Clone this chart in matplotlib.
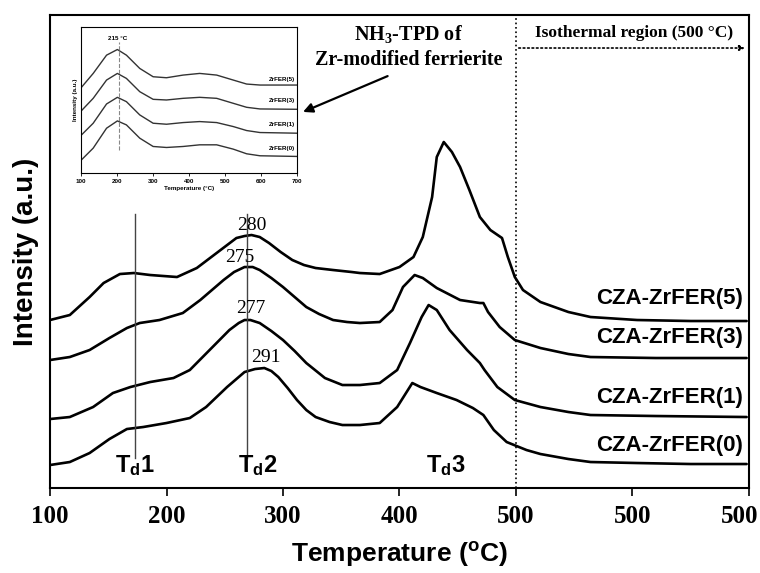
import numpy as np
import matplotlib
matplotlib.use("Agg")
import matplotlib.pyplot as plt
import matplotlib.transforms as mtransforms

plt.rcParams['mathtext.fontset'] = 'custom'
plt.rcParams['mathtext.rm'] = 'Liberation Sans:bold'
plt.rcParams['mathtext.sf'] = 'Liberation Sans:bold'
plt.rcParams['mathtext.bf'] = 'Liberation Serif:bold'
plt.rcParams['mathtext.default'] = 'rm'

# main TPD curves (x = temperature / isothermal time axis, y = intensity a.u.)
x_fer5 = [100, 117, 134, 146, 160, 172, 186, 209, 226, 243, 260, 267, 273, 280, 288, 298, 308, 318,
          328, 343, 359, 366, 383, 400, 412, 420, 428, 432, 438, 445, 452, 460, 469, 478, 488, 493,
          499, 506, 521, 545, 564, 604, 650, 698]
y_fer5 = [168, 173, 191, 205, 214, 215, 213, 211, 220, 235, 250, 252, 253, 251, 245, 236, 228, 223,
          220, 218, 216, 215, 214, 221, 231, 251, 291, 331, 346, 336, 321, 298, 271, 258, 250, 231,
          211, 198, 186, 176, 171, 168, 167, 167]

x_fer3 = [100, 117, 134, 151, 166, 177, 194, 214, 229, 249, 258, 267, 274, 280, 290, 300, 310, 320,
          331, 343, 355, 366, 383, 394, 403, 413, 420, 432, 452, 469, 472, 476, 486, 499, 521, 545,
          564, 620, 698]
y_fer3 = [128, 131, 138, 150, 160, 165, 168, 175, 188, 208, 216, 221, 221, 218, 210, 201, 191, 181,
          174, 168, 166, 165, 166, 178, 201, 213, 210, 200, 188, 185, 185, 176, 161, 148, 140, 134,
          131, 130, 130]

x_fer1 = [100, 117, 137, 154, 169, 186, 206, 220, 237, 254, 262, 267, 272, 280, 290, 300, 310, 320,
          336, 351, 366, 383, 398, 409, 419, 425, 432, 443, 458, 469, 473, 484, 499, 521, 545, 564,
          620, 698]
y_fer1 = [69, 71, 81, 95, 101, 106, 110, 118, 138, 158, 165, 168, 168, 165, 157, 148, 137, 125,
          110, 103, 103, 105, 118, 145, 171, 183, 178, 158, 138, 125, 118, 101, 88, 81, 76, 73,
          72, 71]

x_fer0 = [100, 117, 134, 151, 166, 180, 200, 220, 234, 252, 260, 267, 276, 284, 290, 296, 304, 312,
          320, 328, 340, 351, 366, 383, 398, 411, 418, 432, 449, 463, 472, 481, 492, 509, 521, 545,
          564, 604, 650, 698]
y_fer0 = [23, 26, 35, 49, 59, 61, 65, 70, 81, 101, 109, 116, 119, 120, 117, 111, 100, 88,
          78, 71, 66, 63, 63, 65, 81, 105, 101, 95, 88, 80, 73, 58, 46, 38, 34, 29,
          26, 25, 24, 24]

series_names = ['CZA-ZrFER(5)', 'CZA-ZrFER(3)', 'CZA-ZrFER(1)', 'CZA-ZrFER(0)']
label_y = [190, 151, 91, 43]

peak_labels = ['280', '275', '277', '291']
peak_x = [273, 263, 272, 285]
peak_y = [263, 231, 180, 131]

td_names = ['1', '2', '3']
td_x = [173, 278, 440]
td_lines = [173, 269]

tick_pos = [100, 200, 300, 400, 500, 600, 700]
tick_lab = ['100', '200', '300', '400', '500', '500', '500']

# inset: NH3-TPD of Zr-modified ferrierite
ins_x = [100, 135, 172, 202, 227, 264, 301, 338, 384, 430, 477, 523, 560, 597, 700]
ins_5 = [255, 300, 355, 372, 355, 315, 290, 287, 295, 300, 295, 280, 268, 265, 265]
ins_3 = [185, 225, 280, 300, 285, 245, 222, 220, 225, 228, 225, 210, 198, 193, 192]
ins_1 = [112, 150, 208, 228, 215, 175, 150, 147, 152, 155, 152, 140, 128, 122, 120]
ins_0 = [37, 75, 135, 157, 145, 105, 80, 77, 80, 85, 85, 72, 58, 52, 50]
ins_names = ['ZrFER(5)', 'ZrFER(3)', 'ZrFER(1)', 'ZrFER(0)']
ins_label_y = [282, 218, 145, 75]

fig = plt.figure(figsize=(7.6, 5.73), dpi=100)
ax = fig.add_axes([0.0658, 0.1483, 0.9197, 0.8255])

for xs, ys in [(x_fer5, y_fer5), (x_fer3, y_fer3), (x_fer1, y_fer1), (x_fer0, y_fer0)]:
    ax.plot(xs, ys, color='black', lw=1.9, solid_joinstyle='round', solid_capstyle='round')

for name, yy in zip(series_names, label_y):
    ax.text(695, yy, name, ha='right', va='center', fontsize=16,
            fontfamily='Liberation Sans', fontweight='bold')

for lab, px, py in zip(peak_labels, peak_x, peak_y):
    ax.text(px, py, lab, ha='center', va='center', fontsize=14, fontfamily='Liberation Serif')

for xl in td_lines:
    ax.plot([xl, xl], [30, 274], color='#444444', lw=1.0)

for n, xx in zip(td_names, td_x):
    ax.text(xx, 22, 'T$_d$' + n, ha='center', va='center', fontsize=17,
            fontfamily='Liberation Sans', fontweight='bold')

ax.axvline(500, color='black', ls=':', lw=1.2)
ax.annotate('', xy=(699, 440), xytext=(500, 440),
            arrowprops=dict(arrowstyle='-|>', ls=':', lw=1.2, color='black', mutation_scale=8))
ax.text(601, 455, 'Isothermal region (500 °C)', ha='center', va='center', fontsize=12.5,
        fontfamily='Liberation Serif', fontweight='bold')
ax.text(408, 441, 'NH$_\\mathbf{3}$-TPD of\nZr-modified ferrierite', ha='center', va='center',
        fontsize=14.5, fontfamily='Liberation Serif', fontweight='bold', linespacing=1.3)
ax.annotate('', xy=(315, 375), xytext=(392, 413),
            arrowprops=dict(arrowstyle='-|>', lw=1.6, color='black', mutation_scale=14))

ax.set_xlim(100, 700)
ax.set_ylim(0, 473)
ax.set_xticks(tick_pos)
ax.set_xticklabels(tick_lab, fontsize=18, fontfamily='Liberation Serif', fontweight='bold')
ax.set_yticks([])
ax.tick_params(axis='x', direction='out', length=6, width=1.2, pad=6)
last = ax.get_xticklabels()[-1]
last.set_horizontalalignment('right')
last.set_transform(last.get_transform() + mtransforms.ScaledTranslation(0.09, 0, fig.dpi_scale_trans))
for sp in ax.spines.values():
    sp.set_linewidth(1.5)
ax.set_xlabel('Temperature ($^o$C)', fontsize=19, fontfamily='Liberation Sans', fontweight='bold',
              labelpad=9)
ax.set_ylabel('Intensity (a.u.)', fontsize=20, fontfamily='Liberation Sans', fontweight='bold',
              labelpad=8)

# inset
axi = fig.add_axes([0.106, 0.698, 0.285, 0.255])
for ys in [ins_5, ins_3, ins_1, ins_0]:
    axi.plot(ins_x, ys, color='#333333', lw=1.0)
for name, yy in zip(ins_names, ins_label_y):
    axi.text(693, yy, name, ha='right', va='center', fontsize=4.5, fontfamily='Liberation Sans',
             fontweight='bold')
axi.plot([206, 206], [70, 395], color='#888888', ls='--', lw=0.8)
axi.text(204, 405, '215 °C', ha='center', va='center', fontsize=4.5, fontfamily='Liberation Sans',
         fontweight='bold')
axi.set_xlim(100, 700)
axi.set_ylim(0, 440)
axi.set_xticks([100, 200, 300, 400, 500, 600, 700])
axi.set_xticklabels(['100', '200', '300', '400', '500', '600', '700'], fontsize=4.5,
                    fontfamily='Liberation Sans', fontweight='bold')
axi.set_yticks([])
axi.tick_params(axis='x', direction='out', length=2, width=0.6, pad=2)
for sp in axi.spines.values():
    sp.set_linewidth(0.8)
axi.set_xlabel('Temperature (°C)', fontsize=4.5, fontfamily='Liberation Sans', fontweight='bold',
               labelpad=2)
axi.set_ylabel('Intensity (a.u.)', fontsize=4.5, fontfamily='Liberation Sans', fontweight='bold',
               labelpad=2)

fig.savefig('out.png', dpi=100)
